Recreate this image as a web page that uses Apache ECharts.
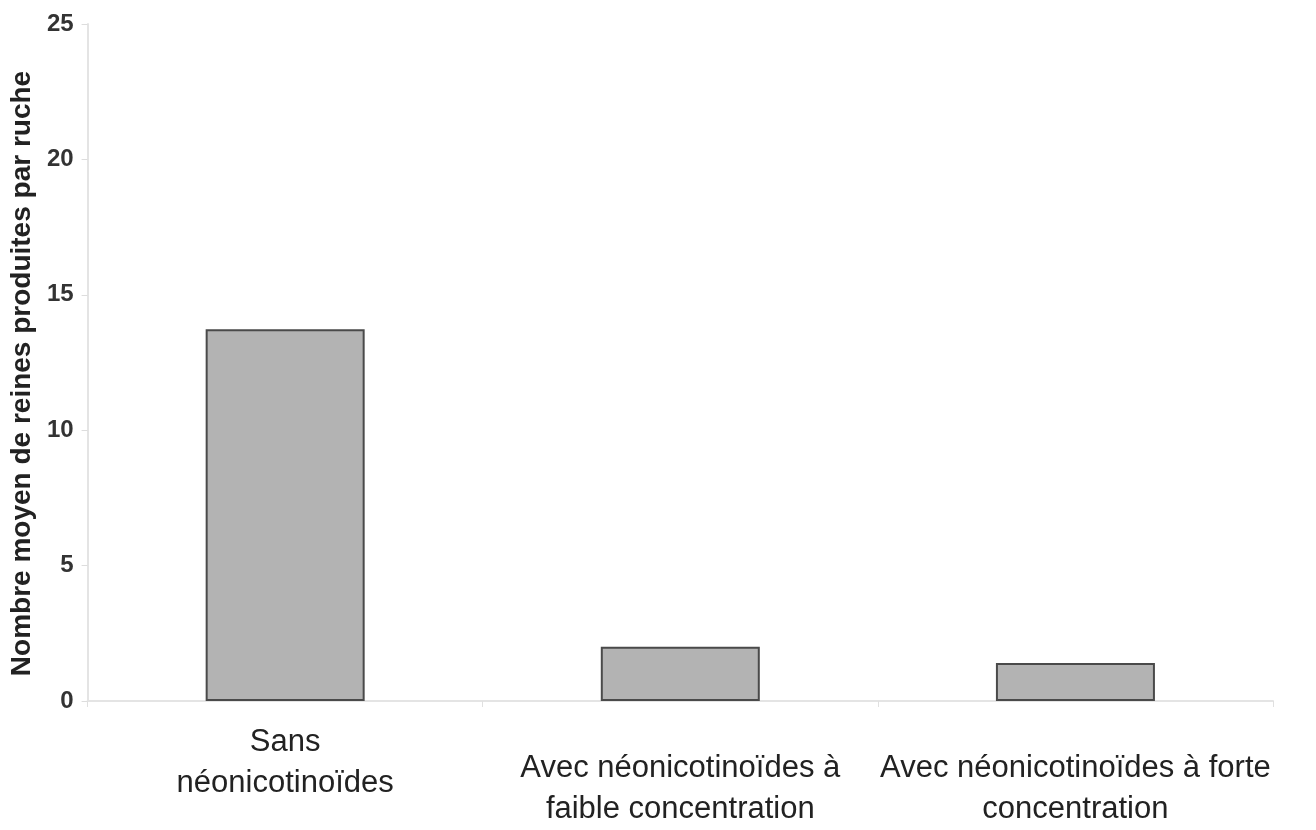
<!DOCTYPE html>
<html>
<head>
<meta charset="utf-8">
<script src="https://cdn.jsdelivr.net/npm/echarts@6/dist/echarts.min.js"></script>
<style>
html,body{margin:0;padding:0;background:#fff;}
#chart{width:1316px;height:830px;}
</style>
</head>
<body>
<div id="chart"></div>
<script>
const categories = [
  "Sans\nnéonicotinoïdes",
  "Avec néonicotinoïdes à\nfaible concentration",
  "Avec néonicotinoïdes à forte\nconcentration"
];
const values = [13.73, 2.0, 1.4];
const yAxisName = "Nombre moyen de reines produites par ruche";
const yTicks = { min: 0, max: 25, interval: 5 };

const chart = echarts.init(document.getElementById('chart'));
chart.setOption({
  backgroundColor: '#ffffff',
  animation: false,
  grid: { left: 85, right: 43, top: 24, bottom: 122 },
  xAxis: {
    type: 'category',
    data: categories.map((c, i) => i === 0 ? c : { value: c, textStyle: { padding: [26, 0, 0, 0] } }),
    axisLine: { show: true, lineStyle: { color: '#e4e4e4', width: 2 } },
    axisTick: { show: true, length: 6, lineStyle: { color: '#e0e0e0' } },
    axisLabel: {
      interval: 0,
      margin: 21,
      fontFamily: 'Liberation Sans, Arial, sans-serif',
      fontSize: 31,
      lineHeight: 41,
      color: '#222222'
    }
  },
  yAxis: {
    type: 'value',
    min: yTicks.min, max: yTicks.max, interval: yTicks.interval,
    name: yAxisName,
    nameLocation: 'middle',
    nameGap: 48,
    nameTextStyle: {
      fontFamily: 'Liberation Sans, Arial, sans-serif',
      fontSize: 28,
      fontWeight: 'bold',
      color: '#222222',
      padding: [0, 22, 0, 0]
    },
    axisLine: { show: true, lineStyle: { color: '#e4e4e4', width: 2 } },
    axisTick: { show: true, length: 6, lineStyle: { color: '#dddddd' } },
    splitLine: { show: false },
    axisLabel: {
      margin: 14,
      fontFamily: 'Liberation Sans, Arial, sans-serif',
      fontSize: 24,
      fontWeight: 'bold',
      color: '#333333'
    }
  },
  series: [{
    type: 'bar',
    data: values,
    barWidth: 159,
    itemStyle: { color: '#b3b3b3', borderColor: '#4a4a4a', borderWidth: 2 }
  }]
});
</script>
</body>
</html>
